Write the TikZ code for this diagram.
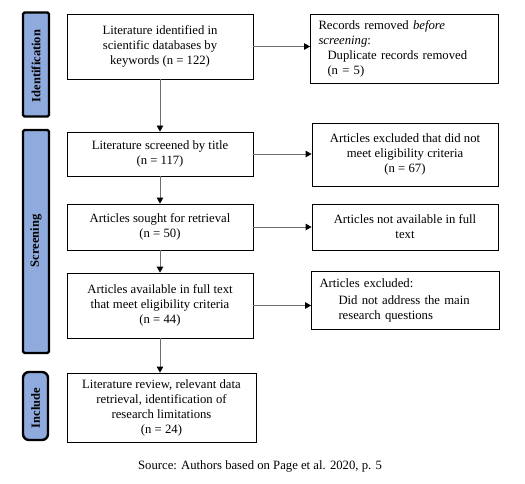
\documentclass[tikz,border=0pt]{standalone}
\usepackage{fontspec}
\setmainfont{Liberation Serif}
\usetikzlibrary{arrows.meta,positioning}
\definecolor{barblue}{RGB}{143,170,220}
\definecolor{linegray}{RGB}{110,110,110}
\tikzset{
  box/.style={draw=black, line width=0.8pt, align=center, inner sep=2pt,
    font=\fontsize{12.7}{15}\selectfont},
  bar/.style={draw=black, line width=2.4pt, fill=barblue, rounded corners=1.5pt},
  bartext/.style={rotate=90, font=\fontsize{12.5}{14}\selectfont\bfseries},
  arr/.style={draw=linegray, line width=0.8pt,
    -{Triangle[width=6.5pt,length=6pt,color=black]}},
}
\begin{document}
\begin{tikzpicture}[x=1pt,y=-1pt]
\useasboundingbox (0,0) rectangle (525,484);
% side bars
\node[bar, minimum width=26pt, minimum height=104pt] (sid) at (36,64.5) {};
\node[bartext] (tid) at (36,66) {Identification};
\node[bar, minimum width=26pt, minimum height=223pt] (ssc) at (36,241.5) {};
\node[bartext] (tsc) at (36,241) {Screening};
\node[bar, rounded corners=6pt, minimum width=25pt, minimum height=68pt] (sin) at (35.5,406) {};
\node[bartext] (tin) at (35.5,408) {Include};
% main column
\node[box, minimum width=186pt, minimum height=65pt] (b1) at (160,46.5)
  {Literature identified in\\scientific databases by\\keywords (n = 122)};
\node[box, minimum width=186pt, minimum height=44pt] (b2) at (160,154)
  {Literature screened by title\\(n = 117)};
\node[box, minimum width=186pt, minimum height=46pt] (b3) at (160,227)
  {Articles sought for retrieval\\(n = 50)};
\node[box, minimum width=186pt, minimum height=65pt] (b4) at (160,305.5)
  {Articles available in full text\\that meet eligibility criteria\\(n = 44)};
\node[box, minimum width=189pt, minimum height=69pt] (b5) at (161.5,407.5)
  {Literature review, relevant data\\retrieval, identification of\\research limitations\\(n = 24)};
% right column
\node[box, align=left, text width=172pt, inner xsep=8pt, minimum width=187pt, minimum height=69pt] (r1) at (404.5,48.5)
  {Records removed \textit{before}\\\textit{screening}:\\\hspace*{9pt}Duplicate records removed\\\hspace*{9pt}(n = 5)};
\node[box, minimum width=186pt, minimum height=63pt] (r2) at (405,154.5)
  {Articles excluded that did not\\meet eligibility criteria\\(n = 67)};
\node[box, minimum width=186pt, minimum height=46pt] (r3) at (405,227)
  {Articles not available in full\\text};
\node[box, align=left, text width=172pt, inner xsep=8pt, minimum width=185pt, minimum height=58pt] (r4) at (405.5,300)
  {Articles excluded:\\[2pt]\hspace*{19pt}Did not address the main\\\hspace*{19pt}research questions};
% connectors
\draw[arr] (b1.south) -- (b2.north);
\draw[arr] (b2.south) -- (b3.north);
\draw[arr] (b3.south) -- (b4.north);
\draw[arr] (b4.south) -- (b4.south |- b5.north);
\draw[arr] (b1.east) -- (b1.east -| r1.west);
\draw[arr] (b2.east) -- (b2.east -| r2.west);
\draw[arr] (b3.east) -- (b3.east -| r3.west);
\draw[arr] (b4.east) -- (b4.east -| r4.west);
% caption
\node[font=\fontsize{12.7}{14}\selectfont] (cap) at (260,466) {Source: Authors based on Page et al. 2020, p. 5};
\end{tikzpicture}
\end{document}
